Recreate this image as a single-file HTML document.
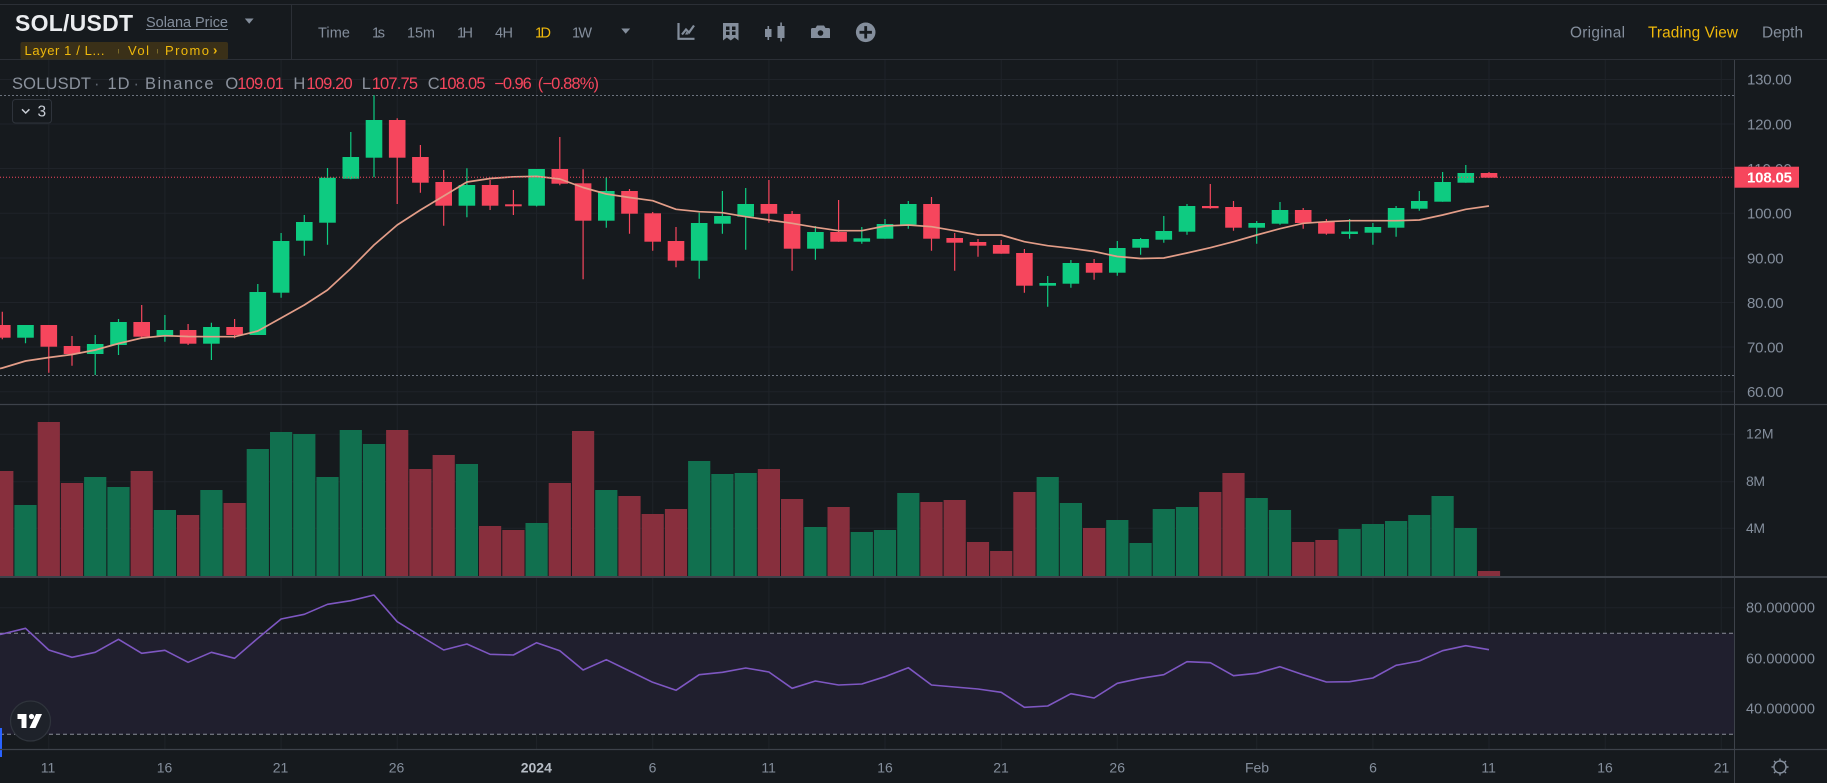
<!DOCTYPE html>
<html><head><meta charset="utf-8"><title>SOL/USDT</title>
<style>
html,body{margin:0;padding:0;background:#161a1e;}
body{width:1827px;height:783px;overflow:hidden;}
svg{display:block;font-family:"Liberation Sans",sans-serif;}
</style></head>
<body>
<svg width="1827" height="783" viewBox="0 0 1827 783" xmlns="http://www.w3.org/2000/svg">
<rect x="0" y="0" width="1827" height="783" fill="#161a1e"/>

<!-- ===== HEADER ===== -->
<line x1="0" y1="4.5" x2="1827" y2="4.5" stroke="#2b2f36" stroke-width="1"/>
<line x1="0" y1="59.5" x2="1827" y2="59.5" stroke="#2b2f36" stroke-width="1"/>
<line x1="291.5" y1="5" x2="291.5" y2="59" stroke="#2b2f36" stroke-width="1"/>

<text x="15" y="31" font-size="23" font-weight="bold" fill="#eaecef" textLength="118">SOL/USDT</text>
<text x="146" y="27" font-size="14.5" fill="#848e9c" textLength="82">Solana Price</text>
<line x1="146" y1="29.5" x2="228" y2="29.5" stroke="#848e9c" stroke-width="1"/>
<polygon points="244.8,18.5 253.6,18.5 249.2,23.8" fill="#848e9c"/>

<rect x="20.5" y="42" width="207.5" height="17.5" rx="2" fill="#3a3018"/>
<text x="24.5" y="55" font-size="13" fill="#f0b90b" textLength="80">Layer 1 / L...</text>
<rect x="118" y="49" width="1" height="4.5" fill="#7a6a2a"/>
<text x="128" y="55" font-size="13" fill="#f0b90b" textLength="21">Vol</text>
<rect x="157" y="49" width="1" height="4.5" fill="#7a6a2a"/>
<text x="165" y="55" font-size="13" fill="#f0b90b" textLength="44">Promo</text>
<text x="213" y="54.5" font-size="13" font-weight="bold" fill="#f0b90b">›</text>

<g font-size="14.5" fill="#848e9c">
<text x="318" y="37.5" textLength="32">Time</text>
<text x="372" y="37.5" textLength="13">1s</text>
<text x="407" y="37.5" textLength="28">15m</text>
<text x="457" y="37.5" textLength="16">1H</text>
<text x="495" y="37.5" textLength="18">4H</text>
<text x="535" y="37.5" textLength="16" fill="#f0b90b">1D</text>
<text x="572" y="37.5" textLength="20">1W</text>
</g>
<polygon points="621.3,28.5 630.2,28.5 625.7,33.8" fill="#848e9c"/>

<!-- icons -->
<g fill="none" stroke="#848e9c" stroke-width="2.2">
<path d="M678.5 23V38.8H694.5"/>
<path d="M682 34.5L686 29.5L689 32.5L694 25.5"/>
</g>
<path d="M685 34.5L688.5 34.5L686.7 31.5Z" fill="#848e9c"/>
<path d="M723 23H738.5V40.5L734.6 37.5L730.75 40.5L726.9 37.5L723 40.5Z" fill="#848e9c"/>
<g fill="#161a1e">
<rect x="726" y="26.5" width="3.5" height="3.5"/><rect x="732" y="26.5" width="3.5" height="3.5"/>
<rect x="726" y="31.5" width="3.5" height="3.5"/><rect x="732" y="31.5" width="3.5" height="3.5"/>
</g>
<g fill="#848e9c">
<rect x="765" y="29" width="6.5" height="8"/><rect x="767.5" y="26" width="1.6" height="14"/>
<rect x="777.5" y="26" width="7" height="12"/><rect x="780.3" y="22.5" width="1.6" height="19"/>
<path d="M811 29.5Q811 28 812.5 28H815.5L817 25.5H824L825.5 28H828.5Q830 28 830 29.5V38H811Z"/>
<circle cx="865.7" cy="32.3" r="9.8"/>
</g>
<circle cx="820.5" cy="33" r="2.8" fill="#161a1e"/>
<path d="M859.5 32.3H871.9M865.7 26.1V38.5" stroke="#161a1e" stroke-width="2.8"/>

<g font-size="15.4">
<text x="1570" y="37.5" fill="#848e9c" textLength="55">Original</text>
<text x="1648" y="37.5" fill="#f0b90b" textLength="90">Trading View</text>
<text x="1762" y="37.5" fill="#848e9c" textLength="41">Depth</text>
</g>

<!-- ===== GRID ===== -->
<g stroke="#1f2329" stroke-width="1">
<path d="M48.8 60V749M164.9 60V749M281.1 60V749M397.2 60V749M536.6 60V749M652.7 60V749M768.9 60V749M885 60V749M1001.2 60V749M1117.3 60V749M1256.7 60V749M1372.9 60V749M1489 60V749M1605.2 60V749M1721.3 60V749"/>
<path d="M0 79.5H1734M0 124H1734M0 168.5H1734M0 213.3H1734M0 258H1734M0 302.5H1734M0 347H1734M0 391.7H1734"/>
<path d="M0 434.3H1734M0 481.7H1734M0 528.3H1734"/>
<path d="M0 607.7H1734M0 658.3H1734M0 709H1734"/>
</g>

<!-- RSI band -->
<rect x="0" y="633.3" width="1734" height="101" fill="#201f2e"/>
<line x1="0" y1="633.3" x2="1734" y2="633.3" stroke="#8a8e99" stroke-width="1" stroke-dasharray="4 3"/>
<line x1="0" y1="734.3" x2="1734" y2="734.3" stroke="#8a8e99" stroke-width="1" stroke-dasharray="4 3"/>

<!-- high/low dotted lines -->
<line x1="0" y1="95.5" x2="1734" y2="95.5" stroke="#6b727d" stroke-width="1" stroke-dasharray="2 2"/>
<line x1="0" y1="375.5" x2="1734" y2="375.5" stroke="#6b727d" stroke-width="1" stroke-dasharray="2 2"/>

<!-- ===== CANDLES ===== -->
<path fill="none" stroke="#0ecb81" stroke-width="1.2" d="M25.5 325V343.3M95.2 335V375M118.5 319V355M164.9 315V341.7M211.4 322.7V360M257.8 284V335M281.1 233V297.7M304.3 215V255.7M327.5 168V244.7M350.8 132V179.3M374 95.3V177.3M466.9 168.3V217.3M536.6 169V206.5M606.3 177.3V227.7M699.2 212.7V278.7M722.4 191V233.7M745.7 188V249.7M815.4 226V259.7M861.8 227V243.7M885 219V238.7M908.3 201V228.7M1047.7 276V306.7M1070.9 260V287.7M1117.3 241V275.7M1140.6 238V254.7M1163.8 216V242.7M1187 204V234.7M1256.7 221V243.7M1280 202V224.7M1349.6 219V238.7M1372.9 223V244.7M1396.1 206V236.7M1419.3 191V210.7M1442.6 172V201.7M1465.8 165V182.7"/>
<path fill="none" stroke="#f6465d" stroke-width="1.2" d="M2.3 311.7V339.3M48.8 325V372.7M72 336V365.7M141.7 305V338.3M188.1 324V345M234.6 319V338.3M397.2 118.3V204M420.4 145V192.7M443.7 170V225.7M490.1 180V210M513.4 190V215M559.8 137V185.3M583.1 169.3V279.3M629.5 189V233.7M652.7 212V250.7M676 227V267.3M768.9 180V222.7M792.1 211V270.7M838.6 200V241.7M931.5 197V250.7M954.7 233V270.7M978 239V256.7M1001.2 240V253.7M1024.4 249V292.7M1094.1 259V279.7M1210.3 184V208.7M1233.5 201V230.7M1303.2 208V228.7M1326.4 219V234.7M1489 172V177.7"/>
<g fill="#0ecb81">
<rect x="17.2" y="325" width="16.6" height="12.7"/>
<rect x="86.9" y="344" width="16.6" height="10"/>
<rect x="110.2" y="322" width="16.6" height="23"/>
<rect x="156.6" y="330" width="16.6" height="6.7"/>
<rect x="203.1" y="327" width="16.6" height="16.7"/>
<rect x="249.5" y="292" width="16.6" height="43"/>
<rect x="272.8" y="241" width="16.6" height="51.7"/>
<rect x="296" y="222" width="16.6" height="18.7"/>
<rect x="319.2" y="177.7" width="16.6" height="45"/>
<rect x="342.5" y="157" width="16.6" height="21.7"/>
<rect x="365.7" y="120" width="16.6" height="37.7"/>
<rect x="458.6" y="185" width="16.6" height="20.7"/>
<rect x="528.3" y="169" width="16.6" height="36.7"/>
<rect x="598" y="191" width="16.6" height="29.7"/>
<rect x="690.9" y="223" width="16.6" height="37.7"/>
<rect x="714.1" y="216" width="16.6" height="7.7"/>
<rect x="737.4" y="204" width="16.6" height="12.7"/>
<rect x="807.1" y="232" width="16.6" height="16.7"/>
<rect x="853.5" y="238.3" width="16.6" height="3.4"/>
<rect x="876.7" y="224" width="16.6" height="14.7"/>
<rect x="900" y="204" width="16.6" height="20.7"/>
<rect x="1039.4" y="283" width="16.6" height="2.7"/>
<rect x="1062.6" y="263" width="16.6" height="20.7"/>
<rect x="1109" y="248" width="16.6" height="24.7"/>
<rect x="1132.3" y="239" width="16.6" height="8.7"/>
<rect x="1155.5" y="231" width="16.6" height="8.7"/>
<rect x="1178.7" y="206" width="16.6" height="25.7"/>
<rect x="1248.4" y="223" width="16.6" height="4.7"/>
<rect x="1271.7" y="210" width="16.6" height="13.7"/>
<rect x="1341.3" y="231.5" width="16.6" height="2.5"/>
<rect x="1364.6" y="227" width="16.6" height="5.7"/>
<rect x="1387.8" y="208" width="16.6" height="19.7"/>
<rect x="1411" y="201" width="16.6" height="7.7"/>
<rect x="1434.3" y="182" width="16.6" height="19.7"/>
<rect x="1457.5" y="173" width="16.6" height="9.7"/>
</g>
<g fill="#f6465d">
<rect x="-6" y="325" width="16.6" height="12.7"/>
<rect x="40.5" y="325" width="16.6" height="21.7"/>
<rect x="63.7" y="346" width="16.6" height="8"/>
<rect x="133.4" y="322" width="16.6" height="14.7"/>
<rect x="179.8" y="330" width="16.6" height="13.7"/>
<rect x="226.3" y="327" width="16.6" height="8"/>
<rect x="388.9" y="120" width="16.6" height="37.7"/>
<rect x="412.1" y="157" width="16.6" height="25.7"/>
<rect x="435.4" y="182" width="16.6" height="23.7"/>
<rect x="481.8" y="185" width="16.6" height="20.7"/>
<rect x="505.1" y="204.3" width="16.6" height="2"/>
<rect x="551.5" y="169" width="16.6" height="14.7"/>
<rect x="574.8" y="183.3" width="16.6" height="37.4"/>
<rect x="621.2" y="191" width="16.6" height="22.7"/>
<rect x="644.4" y="213.3" width="16.6" height="28.4"/>
<rect x="667.7" y="241" width="16.6" height="19.7"/>
<rect x="760.6" y="204" width="16.6" height="9.7"/>
<rect x="783.8" y="214" width="16.6" height="34.7"/>
<rect x="830.3" y="232" width="16.6" height="9.7"/>
<rect x="923.2" y="204" width="16.6" height="34.7"/>
<rect x="946.4" y="238" width="16.6" height="4.7"/>
<rect x="969.7" y="242" width="16.6" height="3.7"/>
<rect x="992.9" y="245" width="16.6" height="8.7"/>
<rect x="1016.1" y="253" width="16.6" height="32.7"/>
<rect x="1085.8" y="263" width="16.6" height="9.7"/>
<rect x="1202" y="206" width="16.6" height="2.2"/>
<rect x="1225.2" y="207" width="16.6" height="20.7"/>
<rect x="1294.9" y="210" width="16.6" height="13"/>
<rect x="1318.1" y="222" width="16.6" height="11.7"/>
<rect x="1480.7" y="173" width="16.6" height="4.7"/>
</g>

<!-- MA line -->
<polyline fill="none" stroke="#e39d88" stroke-width="1.7" stroke-linejoin="round" points="0,368.5 2.3,368 25.5,361 48.8,357.5 72,354.5 95.2,350 118.5,343.5 141.7,338 164.9,335.7 188.1,336.5 211.4,336.7 234.6,336.7 257.8,331 281.1,318 304.3,305 327.5,290 350.8,268.5 374,245 397.2,225 420.4,210 443.7,196 466.9,182 490.1,178.5 513.4,176.8 536.6,176.3 559.8,179 583.1,187.5 606.3,194 629.5,197.5 652.7,200.7 676,209.3 699.2,211.7 722.4,212.7 745.7,216.7 768.9,220 792.1,223.3 815.4,227.3 838.6,230.7 861.8,230.7 885,226 908.3,225 931.5,226.7 954.7,230.7 978,235 1001.2,235 1024.4,241.7 1047.7,245.7 1070.9,248.3 1094.1,251.5 1117.3,256.5 1140.6,258.5 1163.8,258 1187,253 1210.3,247.7 1233.5,241.7 1256.7,235 1280,228.7 1303.2,223.3 1326.4,221.7 1349.6,220.7 1372.9,220.7 1396.1,220.7 1419.3,220 1442.6,215 1465.8,209.3 1489,206"/>

<!-- current price line -->
<line x1="0" y1="177.3" x2="1734" y2="177.3" stroke="#f6465d" stroke-width="1" stroke-dasharray="1 2"/>

<!-- legend -->
<g font-size="16.5">
<text x="12" y="89" fill="#8b929d" textLength="79">SOLUSDT</text>
<text x="94" y="89" fill="#5e6570">·</text>
<text x="107.5" y="89" fill="#8b929d" textLength="22">1D</text>
<text x="133.5" y="89" fill="#5e6570">·</text>
<text x="145" y="89" fill="#8b929d" textLength="68.5">Binance</text>
<text x="225.4" y="89" fill="#8b929d" textLength="10">O</text>
<text x="237.2" y="89" fill="#f6465d" textLength="46.7">109.01</text>
<text x="293.4" y="89" fill="#8b929d" textLength="10.3">H</text>
<text x="306.4" y="89" fill="#f6465d" textLength="46.3">109.20</text>
<text x="361.8" y="89" fill="#8b929d" textLength="8">L</text>
<text x="371.7" y="89" fill="#f6465d" textLength="46.3">107.75</text>
<text x="427.8" y="89" fill="#8b929d" textLength="9.2">C</text>
<text x="438.9" y="89" fill="#f6465d" textLength="46.7">108.05</text>
<text x="494.3" y="89" fill="#f6465d" textLength="37.5">−0.96</text>
<text x="537.8" y="89" fill="#f6465d" textLength="61.2">(−0.88%)</text>
</g>
<rect x="12.5" y="99.5" width="39" height="23.5" rx="3" fill="#161a1e" stroke="#2e333b" stroke-width="1"/>
<path d="M22 109.3L25.7 113L29.4 109.3" fill="none" stroke="#c9ced6" stroke-width="1.5"/>
<text x="37.5" y="116.7" font-size="15.5" fill="#c9ced6">3</text>

<!-- ===== VOLUME ===== -->
<g fill="#11704f">
<rect x="14.4" y="505" width="22.2" height="71"/>
<rect x="84.1" y="477" width="22.2" height="99"/>
<rect x="107.4" y="487" width="22.2" height="89"/>
<rect x="153.8" y="510" width="22.2" height="66"/>
<rect x="200.3" y="490" width="22.2" height="86"/>
<rect x="246.7" y="449" width="22.2" height="127"/>
<rect x="270" y="432" width="22.2" height="144"/>
<rect x="293.2" y="434" width="22.2" height="142"/>
<rect x="316.4" y="477" width="22.2" height="99"/>
<rect x="339.7" y="430" width="22.2" height="146"/>
<rect x="362.9" y="444" width="22.2" height="132"/>
<rect x="455.8" y="464" width="22.2" height="112"/>
<rect x="525.5" y="523" width="22.2" height="53"/>
<rect x="595.2" y="490" width="22.2" height="86"/>
<rect x="688.1" y="461" width="22.2" height="115"/>
<rect x="711.3" y="474" width="22.2" height="102"/>
<rect x="734.6" y="473" width="22.2" height="103"/>
<rect x="804.3" y="527" width="22.2" height="49"/>
<rect x="850.7" y="532" width="22.2" height="44"/>
<rect x="873.9" y="530" width="22.2" height="46"/>
<rect x="897.2" y="493" width="22.2" height="83"/>
<rect x="1036.6" y="477" width="22.2" height="99"/>
<rect x="1059.8" y="503" width="22.2" height="73"/>
<rect x="1106.2" y="520" width="22.2" height="56"/>
<rect x="1129.5" y="543" width="22.2" height="33"/>
<rect x="1152.7" y="509" width="22.2" height="67"/>
<rect x="1175.9" y="507" width="22.2" height="69"/>
<rect x="1245.6" y="498" width="22.2" height="78"/>
<rect x="1268.9" y="510" width="22.2" height="66"/>
<rect x="1338.5" y="529" width="22.2" height="47"/>
<rect x="1361.8" y="524" width="22.2" height="52"/>
<rect x="1385" y="521" width="22.2" height="55"/>
<rect x="1408.2" y="515" width="22.2" height="61"/>
<rect x="1431.5" y="496" width="22.2" height="80"/>
<rect x="1454.7" y="528" width="22.2" height="48"/>
</g>
<g fill="#872f3d">
<rect x="-8.8" y="471" width="22.2" height="105"/>
<rect x="37.7" y="422" width="22.2" height="154"/>
<rect x="60.9" y="483" width="22.2" height="93"/>
<rect x="130.6" y="471" width="22.2" height="105"/>
<rect x="177" y="515" width="22.2" height="61"/>
<rect x="223.5" y="503" width="22.2" height="73"/>
<rect x="386.1" y="430" width="22.2" height="146"/>
<rect x="409.3" y="469" width="22.2" height="107"/>
<rect x="432.6" y="455" width="22.2" height="121"/>
<rect x="479" y="526" width="22.2" height="50"/>
<rect x="502.3" y="530" width="22.2" height="46"/>
<rect x="548.7" y="483" width="22.2" height="93"/>
<rect x="572" y="431" width="22.2" height="145"/>
<rect x="618.4" y="496" width="22.2" height="80"/>
<rect x="641.6" y="514" width="22.2" height="62"/>
<rect x="664.9" y="509" width="22.2" height="67"/>
<rect x="757.8" y="469" width="22.2" height="107"/>
<rect x="781" y="499" width="22.2" height="77"/>
<rect x="827.5" y="507" width="22.2" height="69"/>
<rect x="920.4" y="502" width="22.2" height="74"/>
<rect x="943.6" y="500" width="22.2" height="76"/>
<rect x="966.9" y="542" width="22.2" height="34"/>
<rect x="990.1" y="551" width="22.2" height="25"/>
<rect x="1013.3" y="492" width="22.2" height="84"/>
<rect x="1083" y="528" width="22.2" height="48"/>
<rect x="1199.2" y="492" width="22.2" height="84"/>
<rect x="1222.4" y="473" width="22.2" height="103"/>
<rect x="1292.1" y="542" width="22.2" height="34"/>
<rect x="1315.3" y="540" width="22.2" height="36"/>
<rect x="1477.9" y="571" width="22.2" height="5"/>
</g>

<!-- ===== RSI ===== -->
<polyline fill="none" stroke="#7e57c2" stroke-width="1.6" stroke-linejoin="round" points="0,634.5 2.3,634 25.5,628.3 48.8,650 72,657.3 95.2,652.3 118.5,639.3 141.7,653.3 164.9,650.3 188.1,662.3 211.4,652.3 234.6,658.3 257.8,638.3 281.1,619 304.3,614.3 327.5,604.3 350.8,600.7 374,595 397.2,621.7 420.4,636 443.7,650 466.9,644 490.1,654.3 513.4,655 536.6,642.7 559.8,650.7 583.1,670 606.3,659.7 629.5,671 652.7,682.3 676,690.3 699.2,674.7 722.4,672.3 745.7,668 768.9,672 792.1,688.3 815.4,681 838.6,685 861.8,684 885,676.7 908.3,667.7 931.5,685 954.7,687 978,689 1001.2,692.3 1024.4,707.3 1047.7,706 1070.9,693.7 1094.1,698 1117.3,683.3 1140.6,678.3 1163.8,674.7 1187,661.7 1210.3,662.7 1233.5,675.7 1256.7,673.3 1280,666.7 1303.2,674.7 1326.4,682 1349.6,681.7 1372.9,678 1396.1,665.3 1419.3,661 1442.6,650.7 1465.8,645.7 1489,649.7"/>

<!-- TV logo -->
<circle cx="30.5" cy="721" r="20" fill="#1e222a" stroke="#2f343c" stroke-width="1.2"/>
<g fill="#ffffff">
<rect x="17.5" y="714" width="9" height="5"/>
<rect x="21.5" y="714" width="5" height="14"/>
<circle cx="31.5" cy="716.5" r="2.6"/>
<path d="M36 714H42L35.5 728H29.5Z"/>
</g>
<rect x="0" y="728" width="2" height="29" fill="#2962ff"/>

<!-- ===== PANE SEPARATORS / AXES ===== -->
<line x1="0" y1="404.5" x2="1827" y2="404.5" stroke="#3d424a" stroke-width="1.2"/>
<line x1="0" y1="577" x2="1827" y2="577" stroke="#3d424a" stroke-width="2"/>
<line x1="0" y1="749.5" x2="1827" y2="749.5" stroke="#3d424a" stroke-width="1.2"/>
<line x1="1734.5" y1="60" x2="1734.5" y2="783" stroke="#3d424a" stroke-width="1"/>

<!-- price axis labels -->
<g font-size="15" fill="#848e9c">
<text x="1747" y="84.7" textLength="44.7">130.00</text>
<text x="1747" y="129.3" textLength="44.7">120.00</text>
<text x="1747" y="173.9" textLength="44.7">110.00</text>
<text x="1747" y="218.6" textLength="44.7">100.00</text>
<text x="1747" y="263.3" textLength="36.6">90.00</text>
<text x="1747" y="307.8" textLength="36.6">80.00</text>
<text x="1747" y="352.3" textLength="36.6">70.00</text>
<text x="1747" y="397" textLength="36.6">60.00</text>
</g>
<rect x="1734.5" y="166.7" width="64.5" height="21" fill="#f6465d"/>
<text x="1747" y="182.6" font-size="15" font-weight="bold" fill="#ffffff" textLength="45">108.05</text>

<!-- volume labels -->
<g font-size="14" fill="#848e9c">
<text x="1746" y="438.3" textLength="27.6">12M</text>
<text x="1746" y="486" textLength="19">8M</text>
<text x="1746" y="533" textLength="19">4M</text>
</g>

<!-- RSI labels -->
<g font-size="14.5" fill="#848e9c">
<text x="1746" y="612.7" textLength="69">80.000000</text>
<text x="1746" y="663.3" textLength="69">60.000000</text>
<text x="1746" y="713.3" textLength="69">40.000000</text>
</g>

<!-- time axis -->
<g font-size="14" fill="#848e9c" text-anchor="middle">
<text x="48" y="772.3">11</text>
<text x="164.5" y="772.3">16</text>
<text x="280.5" y="772.3">21</text>
<text x="396.5" y="772.3">26</text>
<text x="536.3" y="772.3" font-weight="bold" fill="#b7bdc6">2024</text>
<text x="652.5" y="772.3">6</text>
<text x="768.7" y="772.3">11</text>
<text x="885" y="772.3">16</text>
<text x="1001" y="772.3">21</text>
<text x="1117.2" y="772.3">26</text>
<text x="1257" y="772.3">Feb</text>
<text x="1373" y="772.3">6</text>
<text x="1488.7" y="772.3">11</text>
<text x="1605" y="772.3">16</text>
<text x="1721.5" y="772.3">21</text>
</g>

<!-- gear -->
<g stroke="#848e9c" stroke-width="1.4" fill="none">
<circle cx="1780" cy="767" r="6"/>
<path d="M1780 758.5V761M1780 773V775.5M1771.5 767H1774M1786 767H1788.5M1774 761L1775.8 762.8M1784.2 771.2L1786 773M1786 761L1784.2 762.8M1775.8 771.2L1774 773"/>
</g>
</svg>
</body></html>
